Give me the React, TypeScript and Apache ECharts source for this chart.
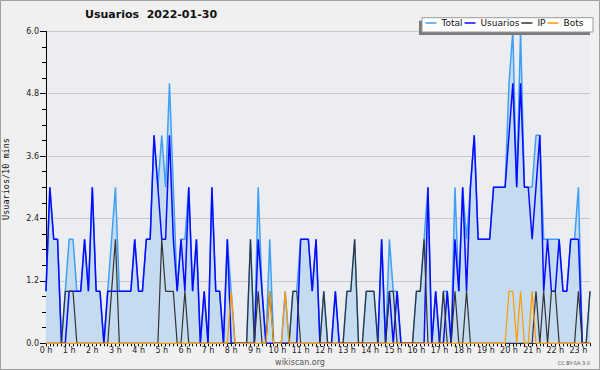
import React, { useEffect, useRef } from "react";
import * as echarts from "echarts";

// 10-minute samples, 00:00 .. 23:30
const usuarios = [
  1, 3, 2, 2, 0, 0, 1, 1, 1, 1,
  2, 1, 3, 1, 1, 0, 1, 1, 1, 1,
  1, 1, 1, 2, 1, 1, 2, 2, 4, 3,
  2, 2, 4, 2, 1, 2, 1, 3, 1, 2,
  0, 1, 0, 3, 1, 1, 0, 2, 0, 0,
  0, 0, 0, 0, 0, 2, 1, 0, 0, 0,
  0, 0, 0, 0, 0, 0, 2, 2, 2, 1,
  2, 0, 0, 0, 0, 1, 0, 0, 0, 0,
  0, 0, 0, 0, 0, 0, 0, 2, 0, 1,
  0, 1, 0, 0, 0, 0, 0, 0, 0, 3,
  0, 1, 0, 0, 1, 0, 2, 1, 3, 1,
  3, 4, 2, 2, 2, 2, 3, 3, 3, 3,
  4, 5, 3, 5, 3, 3, 2, 3, 4, 1,
  2, 1, 1, 2, 1, 1, 2, 2, 2, 0,
  0, 0,
];

const ip = [
  0, 0, 0, 0, 0, 1, 1, 1, 0, 0,
  0, 0, 0, 0, 0, 0, 0, 1, 2, 0,
  0, 0, 0, 0, 0, 0, 0, 0, 0, 0,
  2, 1, 1, 1, 0, 0, 1, 0, 0, 0,
  0, 0, 0, 0, 0, 0, 0, 0, 0, 0,
  0, 0, 0, 2, 0, 1, 0, 0, 1, 0,
  0, 0, 0, 0, 1, 1, 0, 0, 0, 0,
  0, 0, 1, 0, 0, 0, 0, 0, 1, 1,
  2, 0, 0, 1, 1, 1, 0, 0, 0, 1,
  1, 0, 0, 0, 0, 0, 1, 1, 2, 0,
  0, 0, 0, 1, 0, 0, 1, 0, 0, 1,
  0, 0, 0, 0, 0, 0, 0, 0, 0, 0,
  0, 0, 0, 0, 0, 0, 0, 1, 0, 1,
  0, 1, 1, 0, 0, 0, 0, 0, 1, 0,
  0, 1,
];

const bots = [
  0, 0, 0, 0, 0, 0, 0, 0, 0, 0,
  0, 0, 0, 0, 0, 0, 0, 0, 0, 0,
  0, 0, 0, 0, 0, 0, 0, 0, 0, 0,
  0, 0, 0, 0, 0, 0, 0, 0, 0, 0,
  0, 0, 0, 0, 0, 0, 0, 0, 1, 0,
  0, 0, 0, 0, 0, 0, 0, 0, 1, 0,
  0, 0, 1, 0, 0, 0, 0, 0, 0, 0,
  0, 0, 0, 0, 0, 0, 0, 0, 0, 0,
  0, 0, 0, 0, 0, 0, 0, 0, 0, 0,
  0, 0, 0, 0, 0, 0, 0, 0, 0, 0,
  0, 0, 0, 0, 0, 0, 0, 0, 0, 0,
  0, 0, 0, 0, 0, 0, 0, 0, 0, 0,
  1, 1, 0, 1, 0, 0, 1, 0, 0, 0,
  0, 0, 0, 0, 0, 0, 0, 0, 0, 0,
  0, 0,
];

const total = [
  1, 3, 2, 2, 0, 1, 2, 2, 1, 1,
  2, 1, 3, 1, 1, 0, 1, 2, 3, 1,
  1, 1, 1, 2, 1, 1, 2, 2, 4, 3,
  4, 3, 5, 3, 1, 2, 2, 3, 1, 2,
  0, 1, 0, 3, 1, 1, 0, 2, 1, 0,
  0, 0, 0, 2, 0, 3, 1, 0, 2, 0,
  0, 0, 1, 0, 1, 1, 2, 2, 2, 1,
  2, 0, 1, 0, 0, 1, 0, 0, 1, 1,
  2, 0, 0, 1, 1, 1, 0, 2, 0, 2,
  1, 1, 0, 0, 0, 0, 1, 1, 2, 3,
  0, 1, 0, 1, 1, 0, 3, 1, 3, 2,
  3, 4, 2, 2, 2, 2, 3, 3, 3, 3,
  5, 6, 3, 6, 3, 3, 3, 4, 4, 2,
  2, 2, 2, 2, 1, 1, 2, 2, 3, 0,
  0, 1,
];

const seriesNames = ["Total", "Usuarios", "IP", "Bots"];
const titleText = "Usuarios  2022-01-30";
const yAxisName = "Usuarios/10 mins";
const yTickValues = [0, 1.2, 2.4, 3.6, 4.8, 6.0];

const times = total.map(
  (_, i) => `${Math.floor(i / 6)}:${String((i % 6) * 10).padStart(2, "0")}`
);

const FONT = "DejaVu Sans";

export default function App() {
  const ref = useRef<HTMLDivElement>(null);

  useEffect(() => {
    const chart = echarts.init(ref.current!, null, { renderer: "svg" });
    chart.setOption({
      animation: false,
      backgroundColor: "#f0f0f0",
      textStyle: { fontFamily: FONT },
      title: {
        text: titleText,
        left: 85,
        top: 9,
        padding: 0,
        textStyle: { fontSize: 11, fontWeight: "bold", fontFamily: FONT, color: "#111" },
      },
      legend: {
        data: seriesNames,
        left: 425.5,
        top: 18.5,
        padding: 0,
        itemGap: 2,
        itemWidth: 11,
        itemHeight: 1.5,
        icon: "rect",
        textStyle: { fontSize: 9, fontFamily: FONT, color: "#111" },
        z: 10,
      },
      grid: {
        left: 46,
        right: 10,
        top: 31.3,
        bottom: 26.7,
        show: true,
        backgroundColor: "#ecedf0",
        borderWidth: 0,
      },
      xAxis: {
        type: "category",
        data: times,
        boundaryGap: false,
        axisLine: { lineStyle: { color: "#000", width: 1 } },
        axisTick: { interval: 0, length: 3, lineStyle: { color: "#000" } },
        axisLabel: {
          interval: (i: number) => i % 6 === 0,
          formatter: (v: string) => `${parseInt(v, 10)} h`,
          fontSize: 8,
          fontFamily: FONT,
          color: "#222",
          margin: 3,
        },
        splitLine: { show: false },
      },
      yAxis: {
        type: "value",
        min: yTickValues[0],
        max: yTickValues[yTickValues.length - 1],
        interval: yTickValues[1],
        axisLine: { show: true, lineStyle: { color: "#000" } },
        axisTick: { show: true, length: 6, lineStyle: { color: "#000" } },
        minorTick: { show: true, splitNumber: 4, length: 4, lineStyle: { color: "#000" } },
        axisLabel: {
          formatter: (v: number) => v.toFixed(1),
          fontSize: 8,
          fontFamily: FONT,
          color: "#222",
          margin: 7,
        },
        splitLine: { lineStyle: { color: "#c8c8c8", width: 1 } },
      },
      series: [
        {
          name: "Total",
          type: "line",
          data: total,
          showSymbol: false,
          symbol: "none",
          lineStyle: { color: "#3f9ff7", width: 1.5 },
          itemStyle: { color: "#3f9ff7" },
          areaStyle: { color: "#c5dcf0", opacity: 1 },
        },
        {
          name: "Usuarios",
          type: "line",
          data: usuarios,
          showSymbol: false,
          symbol: "none",
          lineStyle: { color: "#0a0aff", width: 1.5 },
          itemStyle: { color: "#0a0aff" },
        },
        {
          name: "IP",
          type: "line",
          data: ip,
          showSymbol: false,
          symbol: "none",
          lineStyle: { color: "#333333", width: 1.2 },
          itemStyle: { color: "#333333" },
        },
        {
          name: "Bots",
          type: "line",
          data: bots,
          showSymbol: false,
          symbol: "none",
          lineStyle: { color: "#ff9900", width: 1.2 },
          itemStyle: { color: "#ff9900" },
        },
      ],
      graphic: [
        {
          type: "rect",
          z: 5,
          shape: { x: 419, y: 20.7, width: 171, height: 14.3 },
          style: { fill: "#7a7a7a" },
        },
        {
          type: "rect",
          z: 6,
          shape: { x: 422, y: 17.7, width: 171, height: 14.3 },
          style: { fill: "#ffffff", stroke: "#9a9a9a", lineWidth: 1 },
        },
        {
          type: "text",
          x: 6,
          y: 179,
          rotation: Math.PI / 2,
          style: {
            text: yAxisName,
            fontSize: 8.5,
            fontFamily: "DejaVu Sans Mono",
            fill: "#111",
            align: "center",
            verticalAlign: "middle",
          },
        },
        {
          type: "text",
          x: 300,
          y: 362,
          style: {
            text: "wikiscan.org",
            fontSize: 8,
            fontFamily: FONT,
            fill: "#555",
            align: "center",
            verticalAlign: "middle",
          },
        },
        {
          type: "text",
          x: 590,
          y: 363,
          style: {
            text: "CC BY-SA 3.0",
            fontSize: 5,
            fontFamily: FONT,
            fill: "#555",
            align: "right",
            verticalAlign: "middle",
          },
        },
        {
          type: "rect",
          z: 20,
          shape: { x: 0.5, y: 0.5, width: 599, height: 369 },
          style: { fill: "none", stroke: "#a0a0a0", lineWidth: 1 },
        },
      ],
    });
    return () => chart.dispose();
  }, []);

  return (
    <div
      ref={ref}
      style={{ position: "fixed", left: 0, top: 0, width: 600, height: 370 }}
    />
  );
}
